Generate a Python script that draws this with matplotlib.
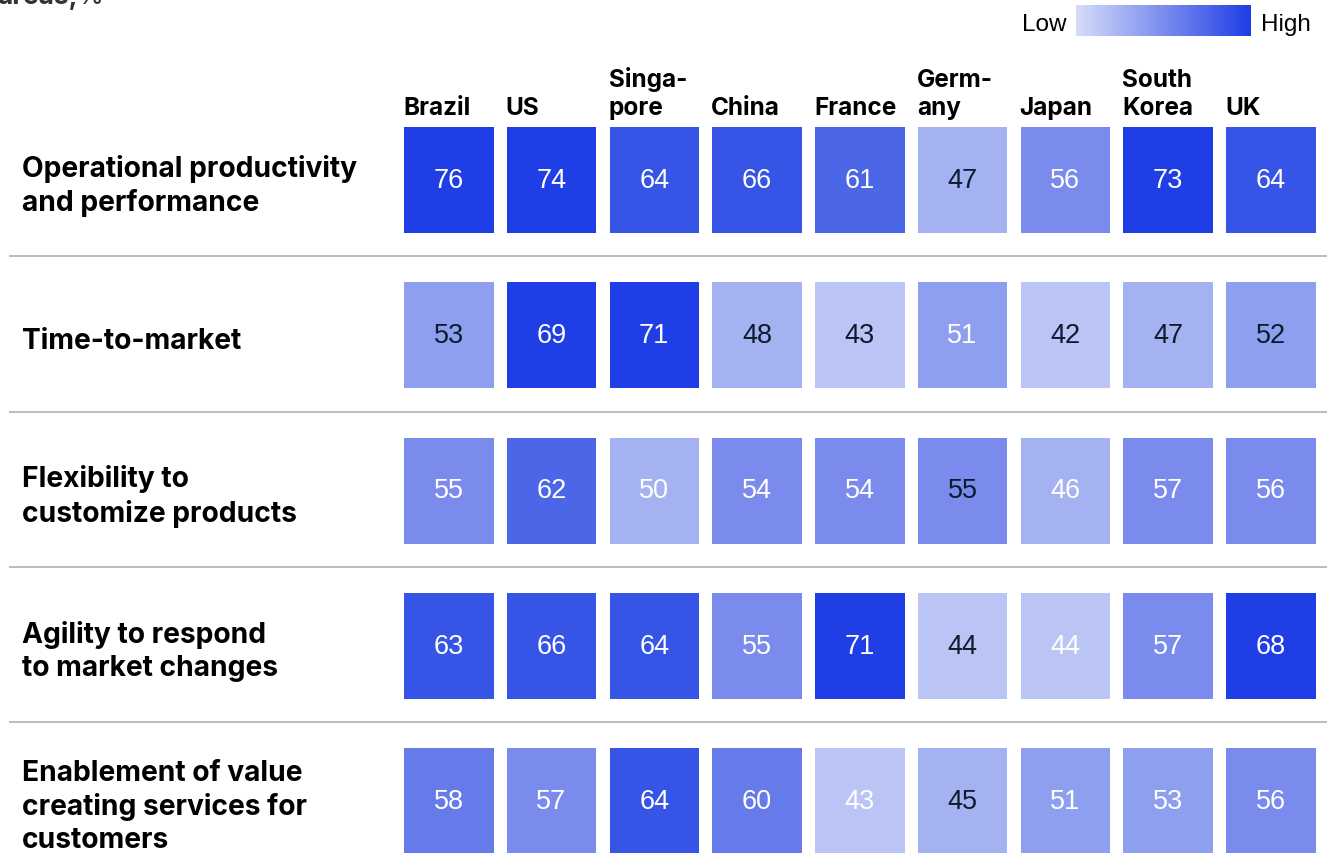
import numpy as np
import matplotlib.pyplot as plt
from matplotlib.colors import ListedColormap, BoundaryNorm, LinearSegmentedColormap
from matplotlib.patches import Rectangle

countries = ['Brazil', 'US', 'Singa-\npore', 'China', 'France', 'Germ-\nany',
             'Japan', 'South\nKorea', 'UK']
areas = ['Operational productivity\nand performance',
         'Time-to-market',
         'Flexibility to\ncustomize products',
         'Agility to respond\nto market changes',
         'Enablement of value\ncreating services for\ncustomers']

operational = [76, 74, 64, 66, 61, 47, 56, 73, 64]
time_to_market = [53, 69, 71, 48, 43, 51, 42, 47, 52]
flexibility = [55, 62, 50, 54, 54, 55, 46, 57, 56]
agility = [63, 66, 64, 55, 71, 44, 44, 57, 68]
enablement = [58, 57, 64, 60, 43, 45, 51, 53, 56]

# numbers printed in dark ink rather than white
dark_numbers = [
    [0, 0, 0, 0, 0, 1, 0, 0, 0],
    [1, 0, 0, 1, 1, 0, 1, 1, 1],
    [0, 0, 0, 0, 0, 1, 0, 0, 0],
    [0, 0, 0, 0, 0, 1, 0, 0, 0],
    [0, 0, 0, 0, 0, 1, 0, 0, 0],
]

values = np.array([operational, time_to_market, flexibility, agility, enablement])

# stepped blue scale
shades = ['#bac4f5', '#a5b2f2', '#8e9fef', '#7a8bed', '#657bea',
          '#4c66e8', '#3654e6', '#1f3ee5']
cmap = ListedColormap(shades)
norm = BoundaryNorm([0, 45, 51, 54, 58, 61, 63, 68, 100], cmap.N)

LABEL_FONT = 'Inter'
NUM_FONT = 'Liberation Sans'

W, H = 1327, 854
fig = plt.figure(figsize=(W / 100, H / 100), dpi=100)
ax = fig.add_axes([0, 0, 1, 1])
ax.set_xlim(0, W)
ax.set_ylim(H, 0)
ax.axis('off')

x0, x_step, cell_w = 404, 102.75, 89.5
y0, y_step, cell_h = 128, 155.25, 106

# column headers, bottom line sits on a common baseline
for i, name in enumerate(countries):
    lines = name.split('\n')
    for k, line in enumerate(reversed(lines)):
        ax.text(x0 + i * x_step - 1, 115 - k * 28, line, family=LABEL_FONT,
                weight='bold', fontsize=17.5, color='black',
                ha='left', va='baseline')

for r, area in enumerate(areas):
    top = y0 + r * y_step
    ax.text(22, top + cell_h / 2 + 5, area, family=LABEL_FONT, weight='bold',
            fontsize=20.3, color='black', ha='left', va='center',
            linespacing=1.28)
    if r > 0:
        ax.plot([9, W], [top - 26, top - 26], color='#b8b8b8', lw=1.3,
                solid_capstyle='butt')
    for i in range(len(countries)):
        v = values[r, i]
        left = x0 + i * x_step
        ax.add_patch(Rectangle((left, top), cell_w, cell_h,
                               facecolor=cmap(norm(v)), edgecolor='none'))
        ax.text(left + cell_w / 2, top + cell_h / 2, str(v), family=NUM_FONT,
                fontsize=19.5, ha='center', va='center',
                color='#0b1c2c' if dark_numbers[r][i] else 'white')

# legend bar
grad = LinearSegmentedColormap.from_list('grad', ['#d6dcf9', '#1f3ee5'])
ax.imshow(np.linspace(0, 1, 256)[None, :], cmap=grad, aspect='auto',
          extent=(1076, 1251, 37, 6))
ax.text(1066, 25, 'Low', family=NUM_FONT, fontsize=17.5, ha='right',
        va='center', color='black')
ax.text(1261, 25, 'High', family=NUM_FONT, fontsize=17.5, ha='left',
        va='center', color='black')

# subtitle running off the top edge
ax.text(-3, 4, 'areas,', family=LABEL_FONT, weight='bold', fontsize=19,
        color='#333333', ha='left', va='baseline')
ax.text(78, 4, '%', family=LABEL_FONT, fontsize=19, color='#333333',
        ha='left', va='baseline')

ax.set_xlim(0, W)
ax.set_ylim(H, 0)
fig.savefig('out.png', dpi=100)
